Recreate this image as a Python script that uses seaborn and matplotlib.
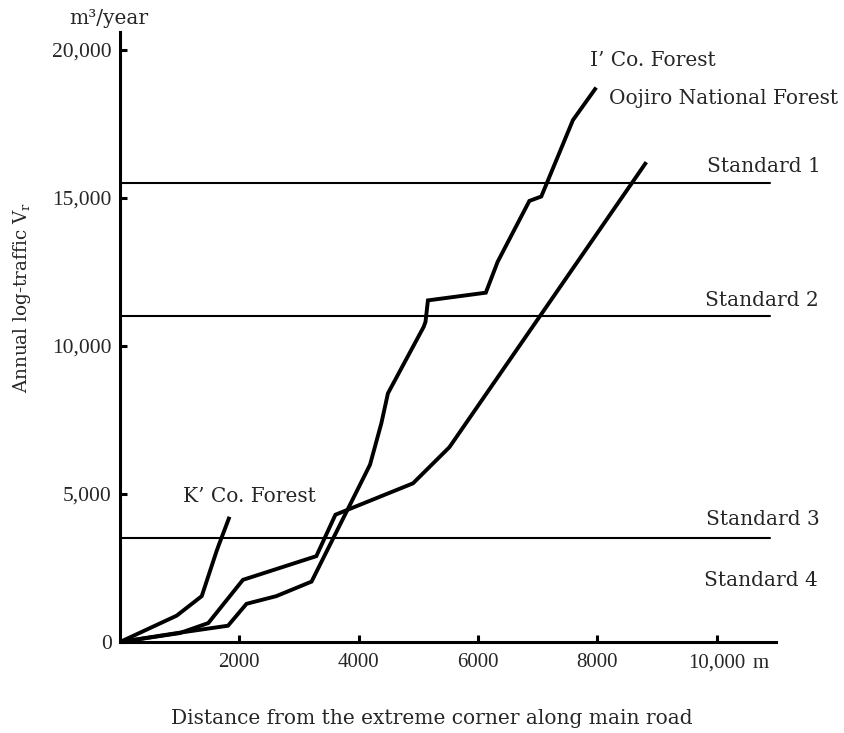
import matplotlib
matplotlib.use("Agg")
import matplotlib.pyplot as plt
import seaborn as sns
import pandas as pd

# Forest traffic curves: distance along main road (m) vs annual log-traffic (m3/year)
k_dist = [0, 950, 1370, 1615, 1660, 1835]
k_vol = [0, 890, 1550, 3050, 3300, 4230]

i_dist = [0, 950, 1810, 2120, 2620, 3210, 4190, 4380, 4490, 5090, 5120, 5160,
          6130, 6330, 6860, 7060, 7590, 7980]
i_vol = [0, 300, 550, 1290, 1550, 2040, 5990, 7390, 8400, 10650, 10820, 11540,
         11800, 12850, 14900, 15050, 17630, 18730]

o_dist = [0, 1000, 1480, 2060, 3290, 3610, 4910, 5520, 8820]
o_vol = [0, 300, 640, 2100, 2900, 4300, 5360, 6580, 16210]

# Road standard thresholds
standard_names = ["Standard 1", "Standard 2", "Standard 3"]
standard_vals = [15500, 11000, 3500]
standard_end = 10900

x_ticks = [2000, 4000, 6000, 8000, 10000]
x_ticklabels = ["2000", "4000", "6000", "8000", "10,000"]
y_ticks = [0, 5000, 10000, 15000, 20000]
y_ticklabels = ["0", "5,000", "10,000", "15,000", "20,000"]

sns.set_style("ticks")
plt.rcParams["font.family"] = ["DejaVu Serif"]
plt.rcParams["mathtext.fontset"] = "dejavuserif"

fig = plt.figure(figsize=(8.44, 7.33), dpi=100)
ax = fig.add_axes([120 / 844, 91 / 733, 656.4 / 844, 609.8 / 733])

curves = pd.concat([
    pd.DataFrame({"dist": k_dist, "vol": k_vol, "forest": "K"}),
    pd.DataFrame({"dist": i_dist, "vol": i_vol, "forest": "I"}),
    pd.DataFrame({"dist": o_dist, "vol": o_vol, "forest": "O"}),
], ignore_index=True)

for name, grp in curves.groupby("forest"):
    sns.lineplot(data=grp, x="dist", y="vol", sort=False, estimator=None,
                 color="black", linewidth=2.8, ax=ax,
                 solid_joinstyle="miter", solid_capstyle="butt")

std_df = pd.DataFrame({
    "dist": [v for _ in standard_vals for v in (0, standard_end)],
    "vol": [s for s in standard_vals for _ in (0, 1)],
    "std": [n for n in standard_names for _ in (0, 1)],
})
for name, grp in std_df.groupby("std"):
    sns.lineplot(data=grp, x="dist", y="vol", sort=False, estimator=None,
                 color="black", linewidth=1.5, ax=ax)

ax.set_xlim(0, 11000)
ax.set_ylim(0, 20600)
sns.despine(ax=ax)
for side in ("left", "bottom"):
    ax.spines[side].set_linewidth(2.2)
    ax.spines[side].set_color("black")

ax.set_xticks(x_ticks)
ax.set_xticklabels(x_ticklabels, family="Liberation Serif", fontsize=15)
ax.set_yticks(y_ticks)
ax.set_yticklabels(y_ticklabels, family="Liberation Serif", fontsize=15.5)
ax.tick_params(axis="both", direction="in", length=5, width=2.2, color="black")
ax.tick_params(axis="x", pad=8)
ax.tick_params(axis="y", pad=6)

ax.annotate("m", xy=(10000, 0), xytext=(26, -9), textcoords="offset points",
            ha="left", va="top", family="Liberation Serif", fontsize=15,
            annotation_clip=False)

ax.set_xlabel("Distance from the extreme corner along main road", fontsize=14.5)
ax.xaxis.set_label_coords(0.475, -0.11)
ax.set_ylabel(r"Annual log-traffic V$_\mathrm{r}$", fontsize=13.2)
ax.yaxis.set_label_coords(-0.133, 0.565)

ax.text(-0.017, 1.023, "m\u00b3/year", transform=ax.transAxes, ha="center",
        va="center", fontsize=14.5)

lab = dict(fontsize=14.5, ha="left", va="center")
ax.text(1049, 4930, "K\u2019 Co. Forest", **lab)
ax.text(7878, 19660, "I\u2019 Co. Forest", **lab)
ax.text(8200, 18345, "Oojiro National Forest", **lab)
ax.text(9840, 16060, "Standard 1", **lab)
ax.text(9808, 11550, "Standard 2", **lab)
ax.text(9819, 4155, "Standard 3", **lab)
ax.text(9791, 2070, "Standard 4", **lab)

fig.savefig("out.png", dpi=100)
